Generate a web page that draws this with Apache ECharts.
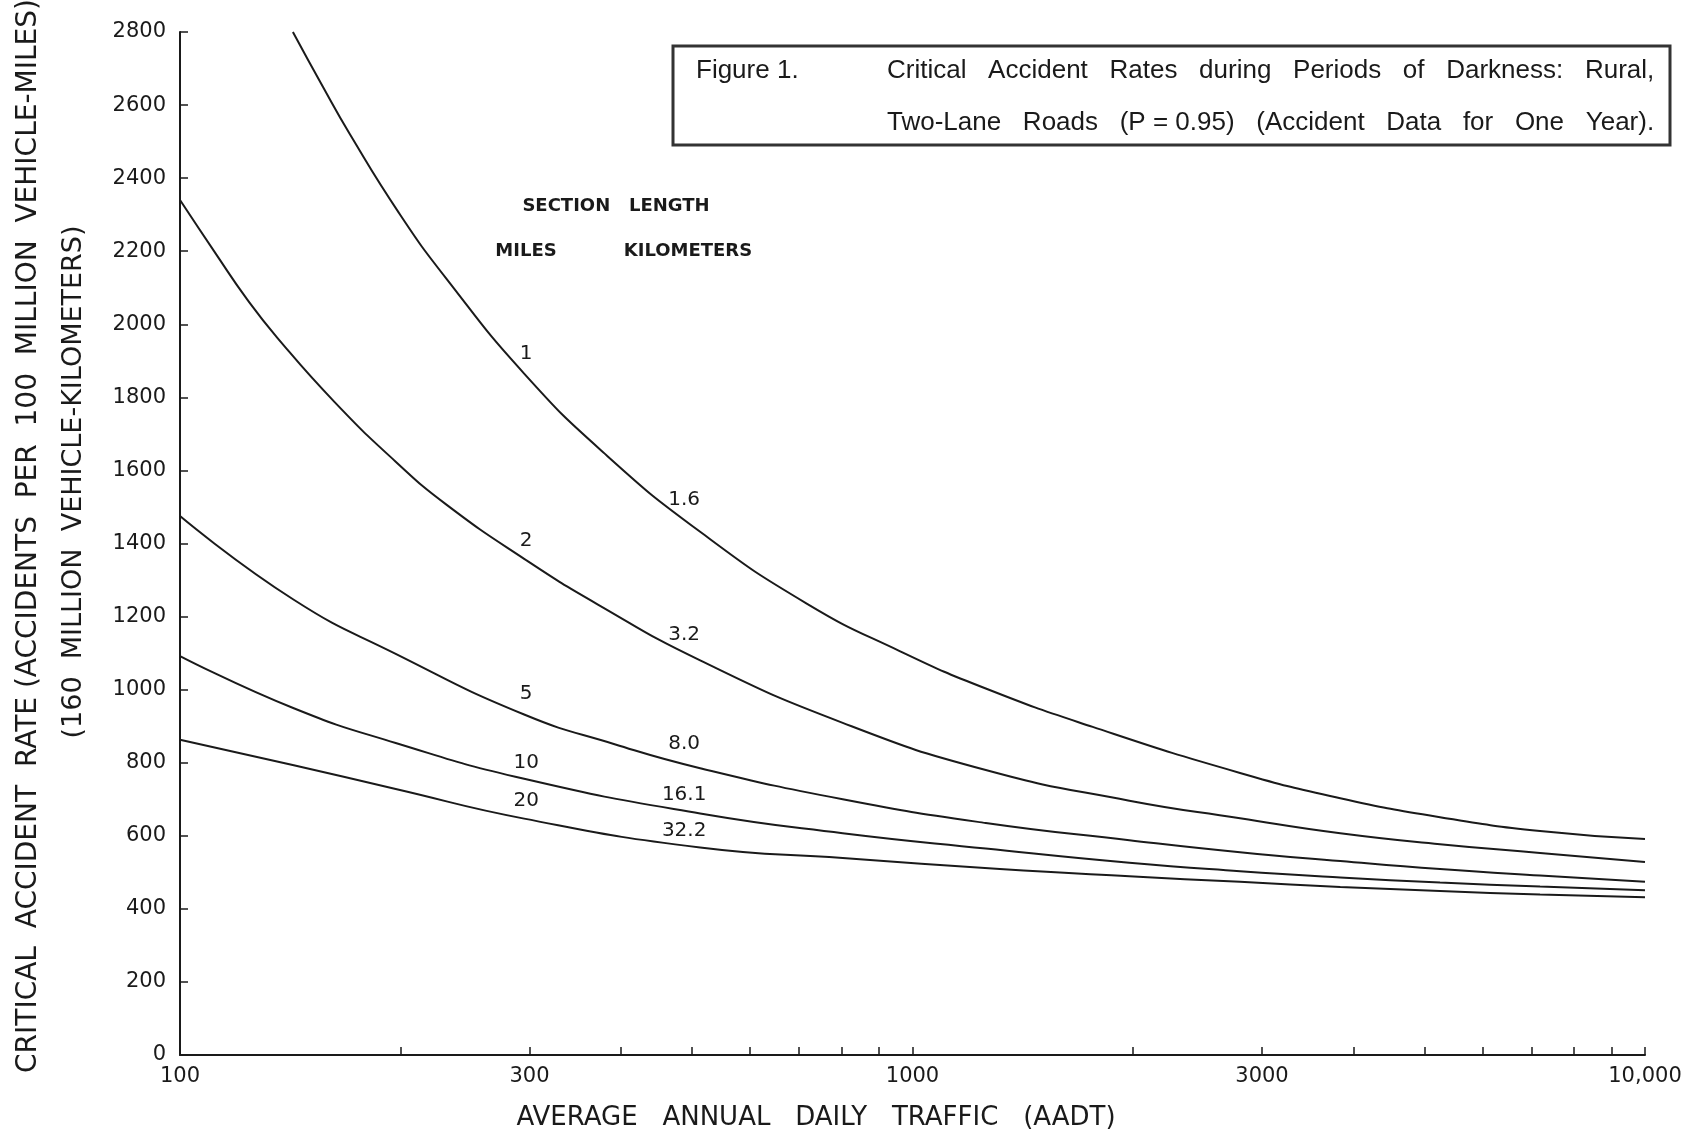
<!DOCTYPE html>
<html>
<head>
<meta charset="utf-8">
<title>Critical Accident Rates during Periods of Darkness</title>
<script src="https://cdn.jsdelivr.net/npm/echarts@6/dist/echarts.min.js"></script>
<style>
  html, body { margin: 0; padding: 0; background: #fff; }
  #chart { width: 1697px; height: 1138px; }
</style>
</head>
<body>
<div id="chart"></div>
<script>
// [AADT, critical accident rate], one array per section length
const mile1 = [[142.6, 2800], [156.7, 2650], [170.6, 2520], [199, 2305], [231, 2125], [295, 1865], [380, 1646], [513, 1432], [718, 1235], [962, 1105], [1259, 1003], [1762, 898], [2800, 772], [3837, 703], [5250, 651], [7190, 613], [10000, 591]]
const mile2 = [[100, 2340], [112, 2192], [123.5, 2068], [135.8, 1963], [162.6, 1787], [197, 1624], [230.8, 1507], [295, 1358], [372, 1233], [513, 1080], [803, 909], [1259, 780], [1977, 696], [2800, 648], [3837, 607], [5250, 577], [7190, 553], [10000, 528]]
const mile5 = [[100, 1475], [143, 1246], [197, 1098], [295, 932], [393, 850], [513, 785], [803, 700], [1259, 635], [1977, 588], [2800, 555], [3837, 531], [5250, 509], [7190, 491], [10000, 474]]
const mile10 = [[100, 1092], [143, 949], [197, 854], [295, 756], [513, 661], [803, 607], [1259, 565], [1977, 526], [2800, 503], [3837, 486], [5250, 472], [7190, 461], [10000, 451]]
const mile20 = [[100, 863], [143, 793], [197, 728], [295, 647], [513, 568], [803, 539], [1316, 509], [1977, 489], [2800, 474], [3837, 460], [5250, 449], [7190, 439], [10000, 432]]

const curves = [mile1, mile2, mile5, mile10, mile20]
const sectionMiles = ['1', '2', '5', '10', '20']
const sectionKm = ['1.6', '3.2', '8.0', '16.1', '32.2']

// x axis: ticks at every 1..9 multiple, labels only at these
const xTickValues = [100, 200, 300, 400, 500, 600, 700, 800, 900, 1000, 2000, 3000, 4000, 5000, 6000, 7000, 8000, 9000, 10000]
const xLabelValues = [100, 300, 1000, 3000, 10000]

// curve labels sit on the reading at these AADT values, lifted by px
const milesAt = 295
const kmAt = 513
const milesLift = [-20, -18, -21, -16, -18]
const kmLift = [-32, -26, -24, -19, -17]

const ink = '#1a1a1a'
const gothic = '"DejaVu Sans", Lato, sans-serif'
const helv = '"Liberation Sans", Arial, sans-serif'

function pointAt(data, x) {
  return data.find(d => d[0] === x)
}

const chart = echarts.init(document.getElementById('chart'), null, { renderer: 'canvas' })

chart.setOption({
  animation: false,
  backgroundColor: '#fff',
  grid: {
    left: 180,
    right: 52,
    top: 32,
    bottom: 83
  },
  xAxis: {
    type: 'log',
    logBase: 10,
    min: 100,
    max: 10000,
    axisLine: { show: true, onZero: false, lineStyle: { color: ink, width: 2 } },
    axisTick: {
      show: true,
      inside: true,
      length: 8,
      customValues: xTickValues,
      lineStyle: { color: ink, width: 1.5 }
    },
    axisLabel: {
      customValues: xLabelValues,
      color: ink,
      fontFamily: gothic,
      fontSize: 21,
      margin: 11,
      formatter: v => (v >= 10000 ? '10,000' : String(v))
    },
    splitLine: { show: false }
  },
  yAxis: {
    type: 'value',
    min: 0,
    max: 2800,
    interval: 200,
    axisLine: { show: true, lineStyle: { color: ink, width: 2 } },
    axisTick: { show: true, inside: true, length: 8, lineStyle: { color: ink, width: 1.5 } },
    axisLabel: { color: ink, fontFamily: gothic, fontSize: 21, margin: 14, formatter: v => String(v) },
    splitLine: { show: false }
  },
  series: curves.map((data, i) => ({
    type: 'line',
    name: sectionMiles[i] + ' mi',
    data: data,
    smooth: 0.5,
    symbol: 'none',
    silent: true,
    lineStyle: { color: ink, width: 2 },
    markPoint: {
      symbol: 'circle',
      symbolSize: 1,
      itemStyle: { color: 'rgba(0,0,0,0)' },
      label: {
        show: true,
        position: 'inside',
        formatter: '{b}',
        color: ink,
        fontFamily: gothic,
        fontSize: 20
      },
      data: [
        { name: sectionMiles[i], coord: pointAt(data, milesAt), label: { offset: [2, milesLift[i]] } },
        { name: sectionKm[i], coord: pointAt(data, kmAt), label: { offset: [-16, kmLift[i]] } }
      ]
    }
  })),
  graphic: [
    // axis titles
    {
      type: 'text',
      x: 29,
      y: 536,
      rotation: Math.PI / 2,
      style: {
        text: 'CRITICAL  ACCIDENT  RATE (ACCIDENTS  PER  100  MILLION  VEHICLE-MILES)',
        font: '28px ' + gothic,
        fill: ink,
        align: 'center',
        verticalAlign: 'middle'
      }
    },
    {
      type: 'text',
      x: 74,
      y: 482,
      rotation: Math.PI / 2,
      style: {
        text: '(160  MILLION  VEHICLE-KILOMETERS)',
        font: '27px ' + gothic,
        fill: ink,
        align: 'center',
        verticalAlign: 'middle'
      }
    },
    {
      type: 'text',
      x: 816,
      y: 1118,
      style: {
        text: 'AVERAGE   ANNUAL   DAILY   TRAFFIC   (AADT)',
        font: '26px ' + gothic,
        fill: ink,
        align: 'center',
        verticalAlign: 'middle'
      }
    },
    // section length key
    {
      type: 'text',
      x: 616,
      y: 206,
      style: { text: 'SECTION   LENGTH', font: 'bold 18px ' + gothic, fill: ink, align: 'center', verticalAlign: 'middle' }
    },
    {
      type: 'text',
      x: 526,
      y: 251,
      style: { text: 'MILES', font: 'bold 18px ' + gothic, fill: ink, align: 'center', verticalAlign: 'middle' }
    },
    {
      type: 'text',
      x: 688,
      y: 251,
      style: { text: 'KILOMETERS', font: 'bold 18px ' + gothic, fill: ink, align: 'center', verticalAlign: 'middle' }
    },
    // figure caption box
    {
      type: 'rect',
      shape: { x: 673, y: 46, width: 997, height: 99 },
      style: { fill: '#fff', stroke: '#333', lineWidth: 3 }
    },
    {
      type: 'text',
      x: 696,
      y: 71,
      style: { text: 'Figure 1.', font: '26px ' + helv, fill: ink, align: 'left', verticalAlign: 'middle' }
    },
    {
      type: 'text',
      x: 887,
      y: 71,
      style: {
        text: 'Critical   Accident   Rates   during   Periods   of   Darkness:   Rural,',
        font: '26px ' + helv,
        fill: ink,
        align: 'left',
        verticalAlign: 'middle'
      }
    },
    {
      type: 'text',
      x: 887,
      y: 123,
      style: {
        text: 'Two-Lane   Roads   (P = 0.95)   (Accident   Data   for   One   Year).',
        font: '26px ' + helv,
        fill: ink,
        align: 'left',
        verticalAlign: 'middle'
      }
    }
  ]
})
</script>
</body>
</html>
